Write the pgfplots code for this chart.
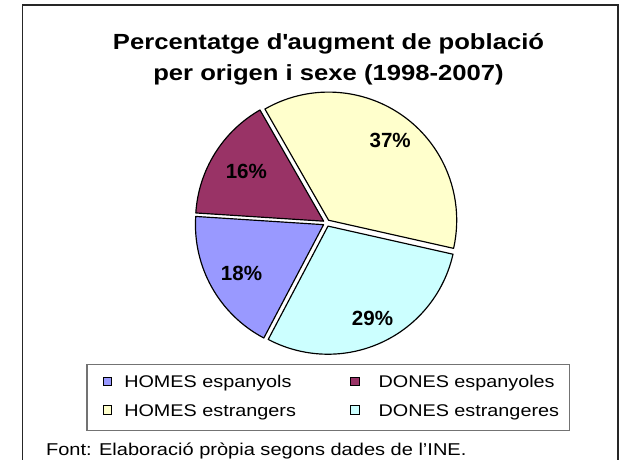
\documentclass[border=0pt]{standalone}
\usepackage{pgfplots}
\pgfplotsset{compat=1.18}
\usepackage{pgfplotstable}
\usepackage{fontspec}
\setmainfont{Liberation Sans}
\newfontfamily\stretched{Liberation Sans}[FakeStretch=1.17]

\definecolor{cHesp}{HTML}{9999FF}
\definecolor{cDesp}{HTML}{993366}
\definecolor{cHest}{HTML}{FFFFCC}
\definecolor{cDest}{HTML}{CCFFFF}

\pgfplotstableread{
serie valor
0 18.3
1 15.7
2 36.8
3 29.2
}\dades

% pie centre (320,242), radius 131, explode 3.5 (axis units = pt)
\newcommand\slice[3]{%
  \fill[#3, draw=black, line width=1.2pt, line join=round]
    (axis cs:{320+3.5*cos((#1+#2)/2)},{242+3.5*sin((#1+#2)/2)}) -- ++(#1:131pt)
    arc[start angle=#1, end angle=#2, radius=131pt] -- cycle;
}

\begin{document}
\pgfplotstablegetelem{0}{valor}\of\dades \let\vHesp\pgfplotsretval
\pgfplotstablegetelem{1}{valor}\of\dades \let\vDesp\pgfplotsretval
\pgfplotstablegetelem{2}{valor}\of\dades \let\vHest\pgfplotsretval
\pgfplotstablegetelem{3}{valor}\of\dades \let\vDest\pgfplotsretval
\pgfmathsetmacro\aA{119.8}
\pgfmathsetmacro\aB{\aA-3.6*\vHest}
\pgfmathsetmacro\aC{\aB-3.6*\vDest}
\pgfmathsetmacro\aD{\aC-3.6*\vHesp}
\pgfmathsetmacro\aE{\aD-3.6*\vDesp}
\begin{tikzpicture}
\begin{axis}[width=619pt, height=470pt, scale only axis, at={(0,0)}, anchor=south west,
  xmin=0, xmax=619, ymin=0, ymax=470, hide axis, ticks=none, clip=false]
\addplot[draw=none, mark=none] coordinates {(0,0) (619,470)};
% frame
\draw[line width=1.3pt, black!85] (axis cs:9,-2) -- (axis cs:9,465) -- (axis cs:618,465) -- (axis cs:618,-2);
% title
\node[anchor=base, font=\stretched\bfseries\fontsize{22.4}{24}\selectfont] at (axis cs:322,419) {Percentatge d\textquotesingle augment de població};
\node[anchor=base, font=\stretched\bfseries\fontsize{22.4}{24}\selectfont] at (axis cs:322,388) {per origen i sexe (1998-2007)};
% pie
\slice{\aA}{\aB}{cHest}
\slice{\aB}{\aC}{cDest}
\slice{\aC}{\aD}{cHesp}
\slice{\aD}{\aE}{cDesp}
% labels
\node[font=\bfseries\fontsize{21}{21}\selectfont] at (axis cs:385,326) {37\%};
\node[font=\bfseries\fontsize{21}{21}\selectfont] at (axis cs:238,295) {16\%};
\node[font=\bfseries\fontsize{21}{21}\selectfont] at (axis cs:233,190) {18\%};
\node[font=\bfseries\fontsize{21}{21}\selectfont] at (axis cs:367,144) {29\%};
% legend
\draw[line width=1.2pt, black!55] (axis cs:75,30) rectangle (axis cs:568,97);
\draw[fill=cHesp, line width=0.9pt] (axis cs:91.5,75.5) rectangle (axis cs:100.5,84.5);
\draw[fill=cHest, line width=0.9pt] (axis cs:91.5,46.5) rectangle (axis cs:100.5,55.5);
\draw[fill=cDesp, line width=0.9pt] (axis cs:344.5,75.5) rectangle (axis cs:353.5,84.5);
\draw[fill=cDest, line width=0.9pt] (axis cs:344.5,46.5) rectangle (axis cs:353.5,55.5);
\node[anchor=base west, inner sep=0pt, font=\stretched\fontsize{17.3}{18}\selectfont] at (axis cs:113,74) {HOMES espanyols};
\node[anchor=base west, inner sep=0pt, font=\stretched\fontsize{17.3}{18}\selectfont] at (axis cs:113,44.3) {HOMES estrangers};
\node[anchor=base west, inner sep=0pt, font=\stretched\fontsize{17.3}{18}\selectfont] at (axis cs:373,74) {DONES espanyoles};
\node[anchor=base west, inner sep=0pt, font=\stretched\fontsize{17.3}{18}\selectfont] at (axis cs:373,44.3) {DONES estrangeres};
% source
\node[anchor=base west, inner sep=0pt, font=\stretched\fontsize{17.5}{18}\selectfont] at (axis cs:33,4) {Font: Elaboració pròpia segons dades de l’INE.};
\end{axis}
\pgfresetboundingbox
\useasboundingbox (0,0) rectangle (619pt,470pt);
\end{tikzpicture}
\end{document}
